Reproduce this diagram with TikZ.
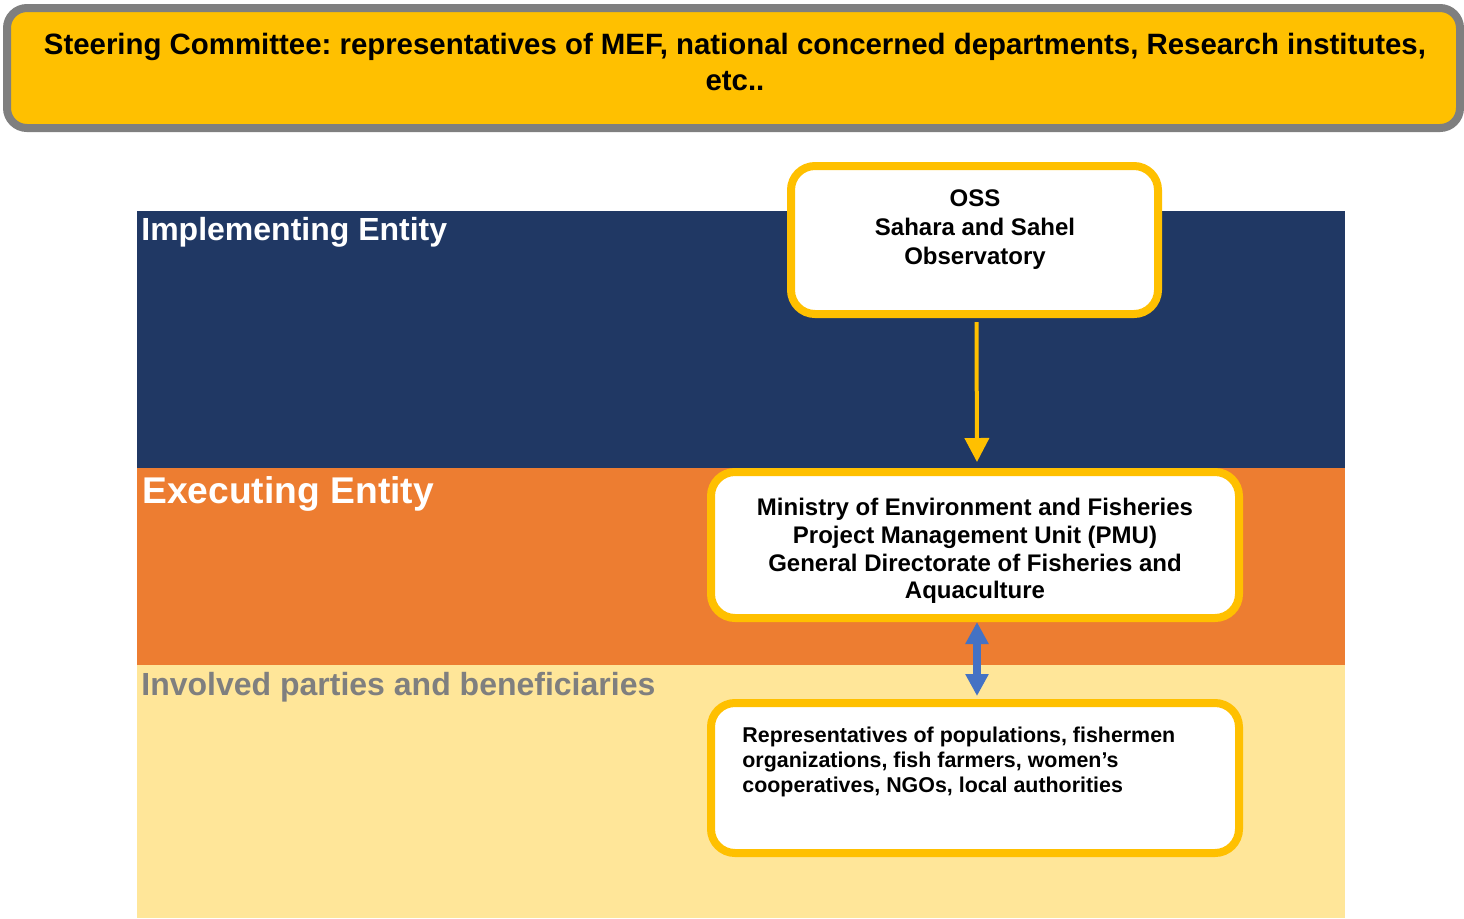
\documentclass[tikz,border=0pt]{standalone}
\usepackage{fontspec}
\setmainfont{Liberation Sans}
\usetikzlibrary{arrows.meta,positioning}
\definecolor{steerFill}{HTML}{FFC000}
\definecolor{steerLine}{HTML}{7F7F7F}
\definecolor{implColor}{HTML}{203864}
\definecolor{execColor}{HTML}{ED7D31}
\definecolor{partyColor}{HTML}{FFE699}
\definecolor{linkColor}{HTML}{4472C4}
\tikzset{
	entity/.style={draw=steerFill, line width=4pt, fill=white, rounded corners=12pt, inner sep=0},
	band label/.style={anchor=base west, inner sep=0, font=\bfseries},
	down arrow/.style={draw=steerFill, line width=2pt, -{Triangle[width=12pt,length=12pt]}},
	both arrow/.style={draw=linkColor, line width=4pt, {Triangle[width=11pt,length=11pt]}-{Triangle[width=11pt,length=11pt]}}
}
\frenchspacing

\begin{document}
\begin{tikzpicture}[x=0.5pt,y=-0.5pt]
\useasboundingbox (0,0) rectangle (1464,918);
% bands
\fill[implColor] (137,211) rectangle (1345,468);
\fill[execColor] (137,468) rectangle (1345,665);
\fill[partyColor] (137,665) rectangle (1345,918);
\node[band label, text=white, font=\bfseries\fontsize{16}{19}\selectfont] (impl) at (141,240) {Implementing Entity};
\node[band label, text=white, font=\bfseries\fontsize{18.6}{22}\selectfont] (exec) at (142,503) {Executing Entity};
\node[band label, text=steerLine, font=\bfseries\fontsize{16}{19}\selectfont] (party) at (141,695) {Involved parties and beneficiaries};
% steering committee
\node[draw=steerLine, fill=steerFill, line width=4pt, rounded corners=10pt, minimum width=726.5pt, minimum height=60pt] (steer) at (733.5,68) {};
\node[align=center, font=\bfseries\fontsize{14.7}{18}\selectfont] (steer_txt) at (735,62) {Steering Committee: representatives of MEF, national concerned departments, Research institutes,\\etc..};
% entities
\node[entity, minimum width=183.5pt, minimum height=74pt] (oss) at (974.5,240) {};
\node[align=center, font=\bfseries\fontsize{12}{14.5}\selectfont] (oss_txt) at (975,230) {OSS\\Sahara and Sahel\\Observatory};
\node[entity, minimum width=264pt, minimum height=73pt] (pmu) at (975,545) {};
\node[align=center, font=\bfseries\fontsize{12}{13.8}\selectfont] (pmu_txt) at (975,551) {Ministry of Environment and Fisheries\\Project Management Unit (PMU)\\General Directorate of Fisheries and\\Aquaculture};
\node[entity, minimum width=264pt, minimum height=75pt] (rep) at (975,778) {};
\node[anchor=north west, inner sep=0, align=left, font=\bfseries\fontsize{10.7}{12.5}\selectfont] (rep_txt) at (742,727) {Representatives of populations, fishermen\\organizations, fish farmers, women’s\\cooperatives, NGOs, local authorities};
% links
\draw[down arrow, shorten <=2pt, shorten >=3pt] ([xshift=1pt]oss.south) -- ([xshift=1pt]pmu.north);
\draw[both arrow, shorten >=1.5pt] ([xshift=1pt]pmu.south) -- ([xshift=1pt]rep.north);
\end{tikzpicture}
\end{document}
